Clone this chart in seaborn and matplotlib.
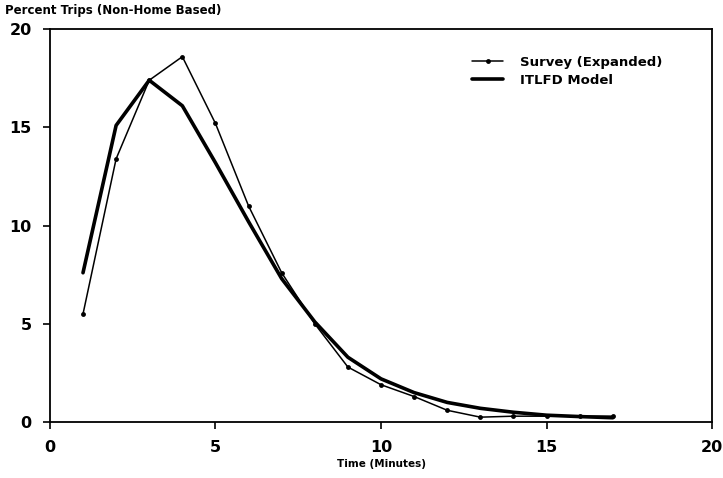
import numpy as np
import pandas as pd
import matplotlib
matplotlib.use("Agg")
import matplotlib.pyplot as plt
import seaborn as sns

# Data
minutes = [1, 2, 3, 4, 5, 6, 7, 8, 9, 10, 11, 12, 13, 14, 15, 16, 17]
survey = [5.5, 13.4, 17.4, 18.6, 15.2, 11.0, 7.6, 5.0, 2.8, 1.9, 1.3, 0.6, 0.25,
          0.3, 0.3, 0.3, 0.3]
itlfd = [7.6, 15.1, 17.4, 16.1, 13.2, 10.2, 7.3, 5.1, 3.3, 2.2, 1.5, 1.0, 0.7,
         0.5, 0.35, 0.28, 0.22]

x_ticks = [0, 5, 10, 15, 20]
y_ticks = [0, 5, 10, 15, 20]

sns.set_style("ticks")
plt.rcParams["font.family"] = ["DejaVu Sans"]

fig = plt.figure(figsize=(7.23, 4.78), dpi=100)
ax = fig.add_axes([0.069, 0.117, 0.916, 0.822])

sns.lineplot(x=minutes, y=survey, ax=ax, color="black", linewidth=1.1,
             marker="o", markersize=3.5, markeredgewidth=0,
             label="Survey (Expanded)")
sns.lineplot(x=minutes, y=itlfd, ax=ax, color="black", linewidth=2.6,
             label="ITLFD Model")

ax.set_xlim(0, 20)
ax.set_ylim(0, 20)
ax.set_xticks(x_ticks)
ax.set_yticks(y_ticks)
ax.tick_params(labelsize=11.5, width=1.2, length=5, pad=8,
               colors="black", labelcolor="black")
for lbl in ax.get_xticklabels() + ax.get_yticklabels():
    lbl.set_fontweight("bold")
for s in ax.spines.values():
    s.set_linewidth(1.3)
    s.set_color("black")

ax.set_xlabel("Time (Minutes)", fontsize=7.5, fontweight="bold", labelpad=3,
              color="black")
ax.set_ylabel("")
fig.text(0.007, 0.977, "Percent Trips (Non-Home Based)", fontsize=8.5,
         fontweight="bold", va="center", ha="left", color="black")

leg = ax.legend(loc="upper left", bbox_to_anchor=(0.62, 0.963), frameon=False,
                handlelength=2.3, handletextpad=1.3, fontsize=9.5,
                labelspacing=0.4)
for t in leg.get_texts():
    t.set_fontweight("bold")
    t.set_color("black")

plt.savefig("out.png", dpi=100)
